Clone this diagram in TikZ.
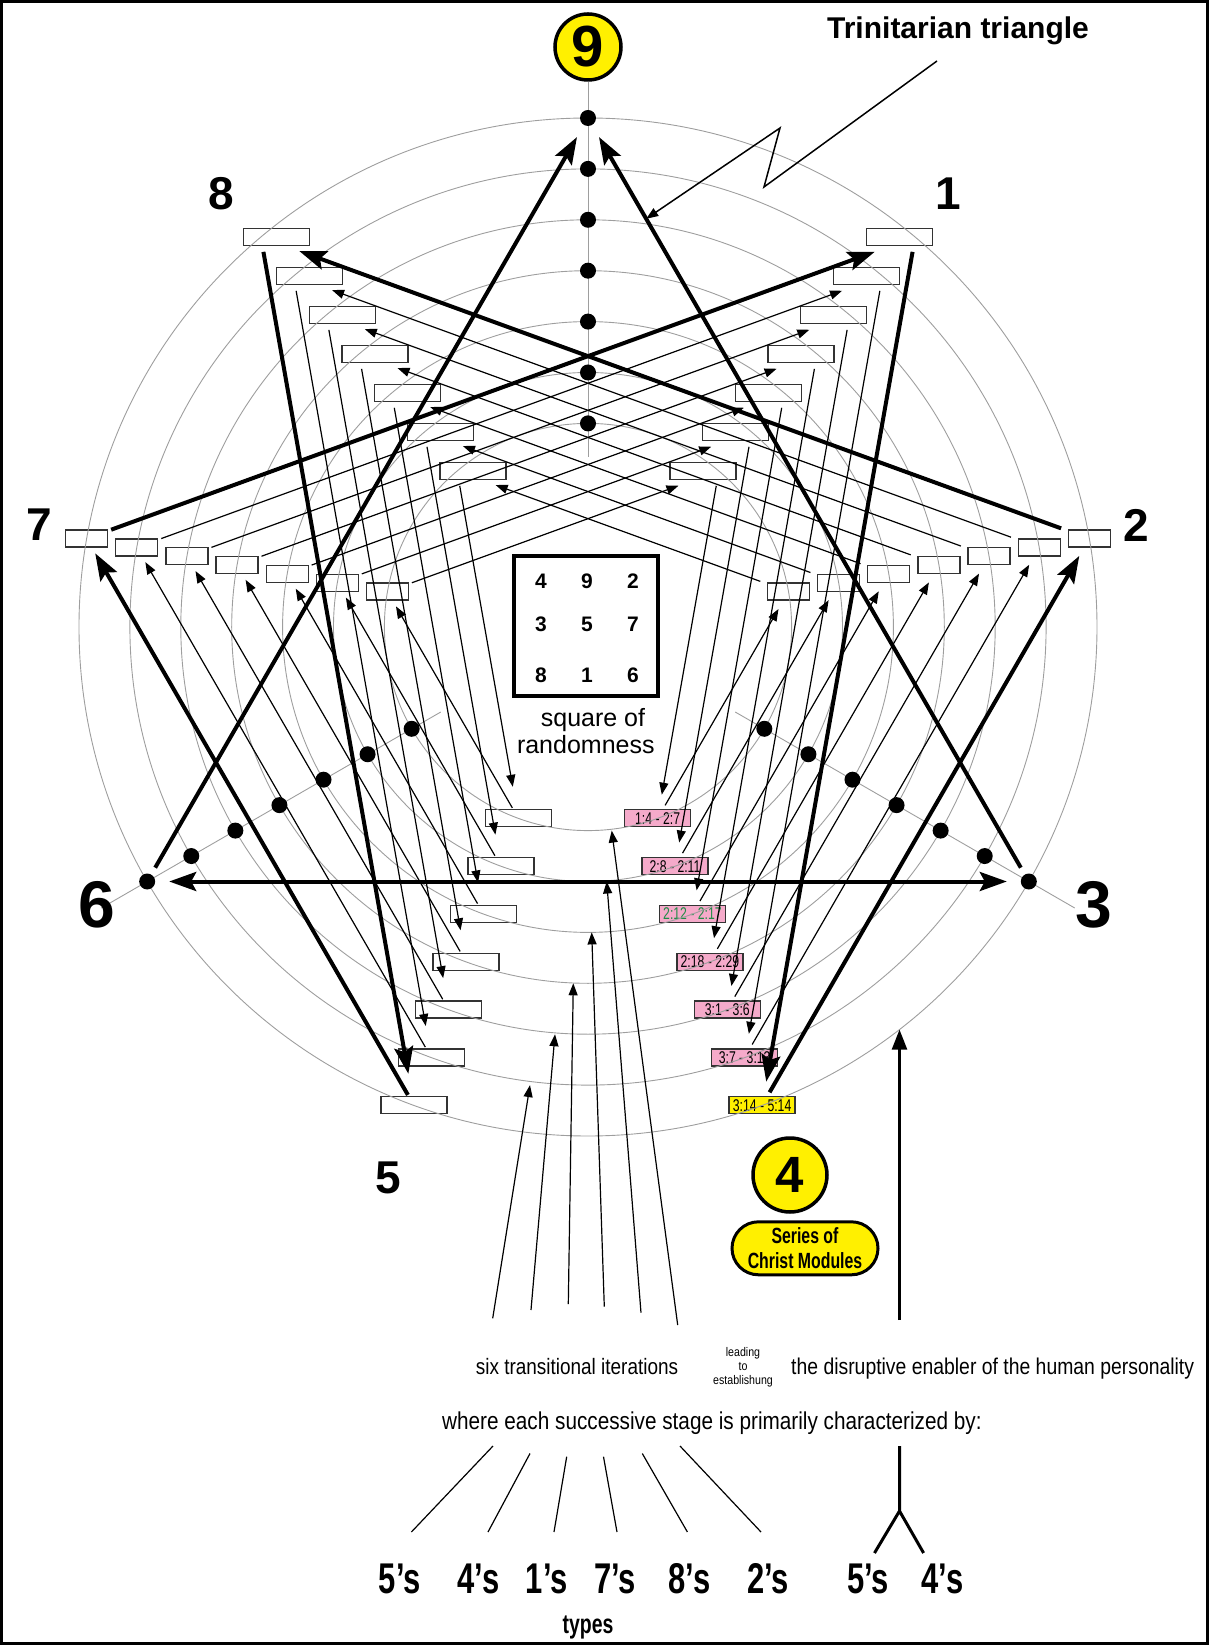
\documentclass[tikz,border=0pt]{standalone}
\usepackage{fontspec}
\setmainfont{Liberation Sans}
\newfontfamily\narrowsf[FakeStretch=0.72]{Liberation Sans}
\newfontfamily\midsf[FakeStretch=0.85]{Liberation Sans}
\usetikzlibrary{arrows.meta,calc,shapes.misc}

\definecolor{discyellow}{RGB}{255,240,0}
\definecolor{versepink}{RGB}{245,170,202}
\definecolor{versegreen}{RGB}{30,140,70}

\begin{document}
\begin{tikzpicture}[x=1pt,y=1pt,
  bigtip/.tip={Stealth[length=27pt,width=19pt,inset=5pt]},
  smalltip/.tip={Triangle[length=12pt,width=9pt]},
  ring/.style={draw=black!38,line width=0.9pt},
  spoke/.style={draw=black!38,line width=0.9pt},
  wbox/.style={draw=black!80,line width=1.3pt,inner sep=0pt,minimum width=66pt,minimum height=17pt},
  sbox/.style={wbox,minimum width=42pt},
  vbox/.style={wbox,fill=versepink,text=black,font=\narrowsf\fontsize{17}{17}\selectfont},
  hexthin/.style={line width=1.2pt,-smalltip},
  hexthick/.style={line width=4pt,-bigtip},
  pointnum/.style={inner sep=0pt,font=\bfseries\fontsize{46}{46}\selectfont},
  disc/.style={circle,draw,line width=3.5pt,fill=discyellow,inner sep=0pt},
  typelabel/.style={inner sep=0pt,anchor=base,font=\narrowsf\bfseries\fontsize{43}{43}\selectfont},
  note/.style={inner sep=0pt,font=\midsf\fontsize{23}{26}\selectfont}]

\useasboundingbox (-588,627) rectangle (621,-1018);
\draw[line width=3pt] (-586.5,625.5) rectangle (619.5,-1016.5);

% points of the figure on every ring
\foreach \a/\p in {50/1,10/2,-70/4,-110/5,170/7,130/8}
  \foreach \k in {4,...,10} {
    \pgfmathsetmacro\rr{\k*50.9}
    \coordinate (p\p-\k) at (\a:\rr);
  }
\coordinate (p9) at (90:509);
\coordinate (p3) at (-30:509);
\coordinate (p6) at (210:509);

% boxes
\foreach \k in {4,...,10} {
  \node[wbox] (b8-\k) at ([xshift=16pt]p8-\k) {};
  \node[wbox] (b1-\k) at ([xshift=-16pt]p1-\k) {};
  \node[sbox] (b7-\k) at (p7-\k) {};
  \node[sbox] (b2-\k) at (p2-\k) {};
  \node[wbox] (b5-\k) at (p5-\k) {};
}
\foreach \k/\verses in {4/1:4 - 2:7,5/2:8 - 2:11,7/2:18 - 2:29,8/3:1 - 3:6,9/3:7 - 3:13}
  \node[vbox] (b4-\k) at (p4-\k) {\verses};
\node[vbox,text=versegreen] (b4-6) at (p4-6) {2:12 - 2:17};
\node[vbox,fill=discyellow] (b4-10) at (p4-10) {3:14 - 5:14};

% rings
\foreach \k in {4,...,10}
  \draw[ring] (0,0) circle (\k*50.9pt);

\node[disc,minimum size=66pt,font=\bfseries\fontsize{58}{58}\selectfont] (nine) at (0,580) {9};
\draw[spoke] (nine) -- (0,170);
\draw[spoke] (210:562) -- (210:170);
\draw[spoke] (-30:562) -- (-30:170);

% inner hexads
\foreach \k in {4,...,9} {
  \draw[hexthin,shorten <=26pt,shorten >=43pt] (p7-\k) -- (p1-\k);
  \draw[hexthin,shorten <=15pt,shorten >=24pt] (p1-\k) -- (p4-\k);
  \draw[hexthin,shorten <=15pt,shorten >=20pt] (p4-\k) -- (p2-\k);
  \draw[hexthin,shorten <=30pt,shorten >=41pt] (p2-\k) -- (p8-\k);
  \draw[hexthin,shorten <=15pt,shorten >=32pt] (p8-\k) -- (p5-\k);
  \draw[hexthin,shorten <=12pt,shorten >=17pt] (p5-\k) -- (p7-\k);
}

% outer hexad and triangle
\draw[hexthick,shorten <=26pt,shorten >=43pt] (p7-10) -- (p1-10);
\draw[hexthick,shorten <=15pt,shorten >=24pt] (p1-10) -- (p4-10);
\draw[hexthick,shorten <=15pt,shorten >=20pt] (p4-10) -- (p2-10);
\draw[hexthick,shorten <=30pt,shorten >=41pt] (p2-10) -- (p8-10);
\draw[hexthick,shorten <=15pt,shorten >=32pt] (p8-10) -- (p5-10);
\draw[hexthick,shorten <=12pt,shorten >=17pt] (p5-10) -- (p7-10);
\draw[hexthick,shorten <=16pt,shorten >=22pt] (p6) -- (p9);
\draw[hexthick,shorten <=16pt,shorten >=22pt] (p3) -- (p9);
\draw[line width=4pt,bigtip-bigtip,shorten <=22pt,shorten >=22pt] (p6) -- (p3);

\foreach \a in {90,210,-30}
  \foreach \k in {4,...,10} {
    \pgfmathsetmacro\rr{\k*50.9}
    \fill (\a:\rr) circle (8pt);
  }

% numbers
\node[pointnum] (l8) at (-366.5,433) {8};
\node[pointnum] (l1) at (360,433) {1};
\node[pointnum] (l7) at (-549,102) {7};
\node[pointnum] (l2) at (548.6,102) {2};
\node[pointnum] (l5) at (-199.7,-550.5) {5};
\node[pointnum,font=\bfseries\fontsize{66}{66}\selectfont] (l6) at (-491.4,-277.7) {6};
\node[pointnum,font=\bfseries\fontsize{66}{66}\selectfont] (l3) at (505.6,-277.7) {3};

% trinitarian pointer
\node[anchor=base,inner sep=0pt,font=\bfseries\fontsize{30}{30}\selectfont] (trinity) at (370,588.7) {Trinitarian triangle};
\coordinate (z0) at (349,566);
\coordinate (z1) at (176,440);
\coordinate (z2) at (192,499);
\coordinate (ztip) at ($(p3)!0.868!(p9)$);
\draw[line width=1.5pt,-smalltip] (z0) -- (z1) -- (z2) -- (ztip);

% square
\node[draw,line width=4pt,minimum width=144pt,minimum height=140pt] (magic) at (-2,0.7) {};
\foreach \n/\x/\y in {4/-47/46,9/-1/46,2/45/46,3/-47/3,5/-1/3,7/45/3,8/-47/-48.5,1/-1/-48.5,6/45/-48.5}
  \node[inner sep=0pt,font=\bfseries\fontsize{21}{21}\selectfont] (sq\n) at (\x,\y) {\n};
\node[anchor=base,inner sep=0pt,font=\fontsize{25}{25}\selectfont] (sqname) at (5,-99.7) {square of};
\node[anchor=base,inner sep=0pt,font=\fontsize{25}{25}\selectfont] (sqname2) at (-2.2,-126.3) {randomness};

% four
\node[disc,minimum size=74pt,font=\bfseries\fontsize{51}{51}\selectfont] (four) at (202,-548) {4};
\node[rounded rectangle,draw,line width=3pt,fill=discyellow,minimum width=150pt,minimum height=53pt,inner sep=2pt,align=center,font=\narrowsf\bfseries\fontsize{22}{25}\selectfont] (series) at (217,-621.3) {Series of\\Christ Modules};

% iterations
\foreach \i/\xa/\ya/\xb/\yb in {9/-95.3/-691.3/-58/-458.1,8/-57/-683/-33/-407.2,7/-19.7/-677/-14.7/-356.3,6/16.3/-679.7/3.7/-305.4,5/53/-685.7/18.7/-254.5,4/89.7/-698/23.7/-203.6} {
  \coordinate (itfoot\i) at (\xa,\ya);
  \coordinate (ithead\i) at (\xb,\yb);
  \draw[hexthin] (itfoot\i) -- (ithead\i);
}
\coordinate (dfoot) at (311.5,-693);
\coordinate (dhead) at (311.5,-402.6);
\draw[line width=2.5pt,-{Triangle[length=20pt,width=15pt]}] (dfoot) -- (dhead);

% captions
\node[note,anchor=base,font=\midsf\fontsize{22.3}{26}\selectfont] (six) at (-11,-747) {six transitional iterations};
\node[align=center,inner sep=0pt,font=\midsf\fontsize{12.5}{14}\selectfont] (leading) at (155,-740) {leading\\to\\establishung};
\node[note,anchor=base west,font=\midsf\fontsize{22.8}{26}\selectfont] (enabler) at (203,-747) {the disruptive enabler of the human personality};
\node[note,anchor=base west,font=\midsf\fontsize{24.4}{26}\selectfont] (stage) at (-146,-802) {where each successive stage is primarily characterized by:};

% types
\foreach \x/\d [count=\i] in {-188.1/5,-109.4/4,-41.2/1,27/7,101.5/8,180.2/2,280/5,354.4/4}
  \node[typelabel] (type\i) at (\x,-966) {\d’s};
\node[anchor=base,inner sep=0pt,font=\narrowsf\bfseries\fontsize{27}{27}\selectfont] (types) at (0,-1006) {types};

\foreach \i/\xa/\ya/\xb in {1/-95/-819/-176.6,2/-58/-826.5/-100,3/-21.3/-829.7/-34,4/15.5/-829.7/29,5/54.3/-826.5/99.4,6/92/-819/173} {
  \coordinate (fantop\i) at (\xa,\ya);
  \coordinate (fanend\i) at (\xb,-905);
  \draw[line width=1.2pt] (fantop\i) -- (fanend\i);
}
\coordinate (forktop) at (311.5,-819);
\coordinate (fork) at (311.5,-884);
\coordinate (forkl) at (286.5,-926);
\coordinate (forkr) at (335.6,-926);
\draw[line width=3pt] (forktop) -- (fork) -- (forkl) (fork) -- (forkr);
\end{tikzpicture}
\end{document}
